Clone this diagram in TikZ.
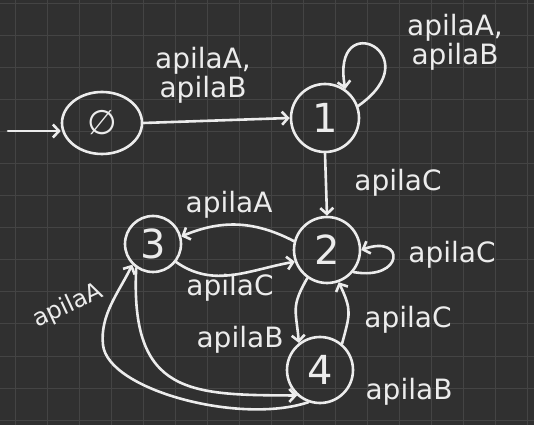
\documentclass[tikz,border=0pt]{standalone}
\usepackage{fontspec}
\setmainfont{DejaVu Sans}
\usetikzlibrary{arrows.meta,shapes.geometric,calc}
\definecolor{bg}{RGB}{48,48,48}
\definecolor{gridc}{RGB}{68,68,68}
\definecolor{ink}{RGB}{236,236,236}
\begin{document}
\begin{tikzpicture}[x=1pt,y=1pt,
  state/.style={draw=ink, line width=2.6pt, circle, inner sep=0pt, text=ink, font=\fontsize{40}{40}\selectfont},
  arr/.style={draw=ink, line width=2.6pt, line cap=round, line join=round, -{Straight Barb[length=6pt,width=13pt]}},
  lbl/.style={text=ink, font=\fontsize{28}{29}\selectfont, inner sep=0pt, align=center}]
\fill[bg] (0,0) rectangle (534,425);
\useasboundingbox (0,0) rectangle (534,425);
\foreach \x in {15,47,...,527} \draw[gridc, line width=1pt] (\x,0) -- (\x,425);
\foreach \y in {5,37,...,421} \draw[gridc, line width=1pt] (0,\y) -- (534,\y);

\node[state, ellipse, minimum width=80pt, minimum height=62pt, font=\fontsize{34}{34}\selectfont] (n0) at (102,302) {∅};
\node[state, minimum size=68pt] (n1) at (325,307) {1};
\node[state, minimum size=66pt] (n2) at (327,175) {2};
\node[state, minimum size=56pt] (n3) at (153,181) {3};
\node[state, minimum size=66pt] (n4) at (320,55) {4};

\coordinate (s) at (8,294);
\draw[arr] (s) -- (s -| n0.west);
\draw[arr] (n0.east) -- (n1.west);
\draw[arr] (n1.20) .. controls ($(n1.20)+(35:90)$) and ($(n1.55)+(100:85)$) .. (n1.55);
\draw[arr] (n1.south) -- (n2.north);
\draw[arr] (n2.-40) .. controls ($(n2.-40)+(-10:52)$) and ($(n2.0)+(20:47)$) .. (n2.0);
\draw[arr] (n2.165) to[bend right=25] (n3.15);
\draw[arr] (n3.-38) to[out=-35, in=190] (n2.200);
\draw[arr] (n2.235) to[out=240, in=95, looseness=1.3] (n4.128);
\draw[arr] (n4.50) to[out=75, in=-65, looseness=1.3] (n2.-70);
\draw[arr] (n4.250) .. controls (240,0) and (108,35) .. (103,80)
                    .. controls (99.7,110) and (119,133) .. (n3.225);
\draw[arr] (n3.235) .. controls (130,30) and (190,30) .. (n4.228);

\node[lbl] (l01) at (203,350) {apilaA,\\apilaB};
\node[lbl] (l11) at (455,383) {apilaA,\\apilaB};
\node[lbl] (l12) at (398,242) {apilaC};
\node[lbl] (l22) at (452,170) {apilaC};
\node[lbl] (l23) at (229,220) {apilaA};
\node[lbl] (l32) at (230,137) {apilaC};
\node[lbl] (l24) at (240,85) {apilaB};
\node[lbl] (l42) at (408,105) {apilaC};
\node[lbl] (l34) at (409,33) {apilaB};
\node[lbl, rotate=25, font=\fontsize{24}{26}\selectfont] (l43) at (68,119) {apilaA};
\end{tikzpicture}
\end{document}
